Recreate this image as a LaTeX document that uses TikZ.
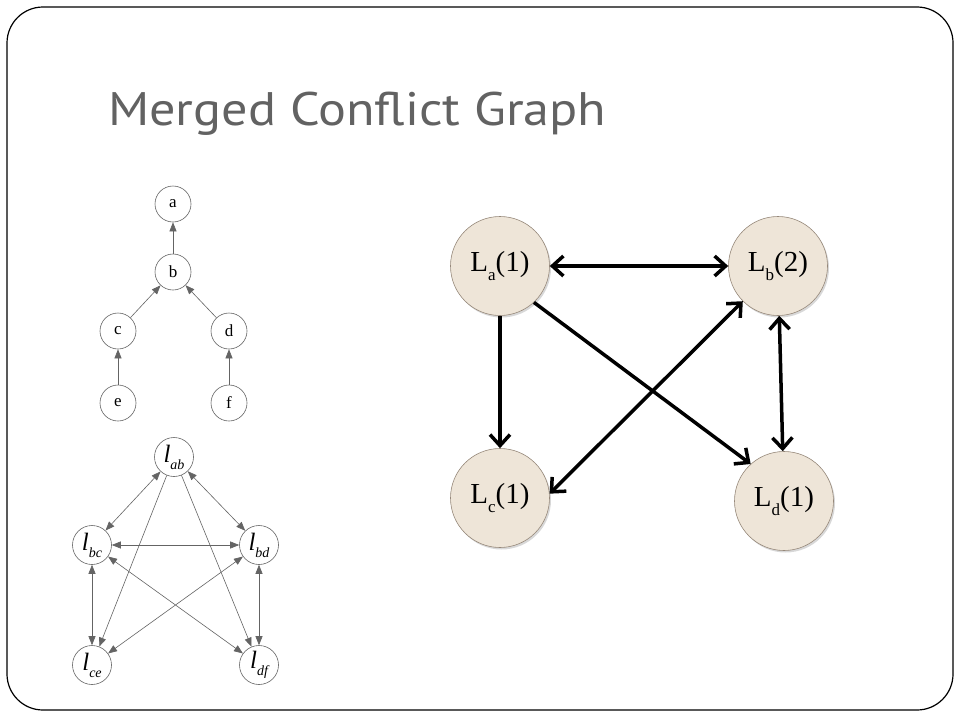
\documentclass[tikz,border=0pt]{standalone}
\usepackage{fontspec}
\setmainfont{Liberation Serif}
\newfontfamily\titlefont{PT Sans}
\usetikzlibrary{arrows.meta}
\usetikzlibrary{shadows}
\definecolor{titlegray}{RGB}{98,98,98}
\definecolor{nodefill}{RGB}{238,229,216}
\definecolor{nodeline}{RGB}{150,136,122}
\definecolor{thingray}{RGB}{100,100,100}
\newcommand{\lsub}[1]{\raisebox{-0.3em}{\fontsize{17}{17}\selectfont #1}}
\newcommand{\isub}[1]{\raisebox{-0.28em}{\fontsize{14}{14}\selectfont\itshape #1}}
\tikzset{
  bigtip/.tip={Straight Barb[length=11pt,width=20pt]},
  smalltip/.tip={Triangle[length=9pt,width=7pt]},
  big/.style={circle, draw=nodeline, line width=0.6pt, fill=nodefill, minimum size=99pt, inner sep=0pt,
    font=\fontsize{29}{30}\selectfont, drop shadow={shadow xshift=1.5pt, shadow yshift=-2pt, opacity=0.3}},
  bigedge/.style={line width=3.5pt, black},
  treenode/.style={circle, draw=thingray, line width=0.6pt, minimum size=36pt, inner sep=0pt, font=\fontsize{17}{17}\selectfont},
  lnode/.style={circle, draw=thingray, line width=0.6pt, minimum size=39pt, inner sep=0pt, font=\fontsize{25}{25}\selectfont\itshape},
  thinedge/.style={draw=thingray, line width=0.6pt}
}
\begin{document}
\begin{tikzpicture}[x=1pt,y=-1pt]
  \useasboundingbox (0,0) rectangle (960,720);
  \fill[white] (0,0) rectangle (960,720);
  \draw[line width=1.2pt, rounded corners=36pt] (7,7) rectangle (953,710);
  \node[anchor=base west, inner sep=0pt, text=titlegray, font=\titlefont\fontsize{47}{50}\selectfont] (title) at (108,125) {\scalebox{1.11}[1]{Merged Conflict Graph}};

  \node[treenode] (a) at (173,204) {a};
  \node[treenode] (b) at (173,272) {b};
  \node[treenode] (c) at (118,331) {c};
  \node[treenode] (d) at (229,331) {d};
  \node[treenode] (e) at (118,403) {e};
  \node[treenode] (f) at (229,403) {f};
  \draw[thinedge, -smalltip] (b) -- (a);
  \draw[thinedge, -smalltip] (c) -- (b);
  \draw[thinedge, -smalltip] (d) -- (b);
  \draw[thinedge, -smalltip] (e) -- (c);
  \draw[thinedge, -smalltip] (f) -- (d);

  \node[lnode] (lab) at (174,457) {l\isub{ab}};
  \node[lnode] (lbc) at (92,545) {l\isub{bc}};
  \node[lnode] (lbd) at (259,545) {l\isub{bd}};
  \node[lnode] (lce) at (92,665) {l\isub{ce}};
  \node[lnode] (ldf) at (259,665) {l\isub{df}};
  \draw[thinedge, smalltip-smalltip] (lab) -- (lbc);
  \draw[thinedge, smalltip-smalltip] (lab) -- (lbd);
  \draw[thinedge, -smalltip] (lab) -- (lce);
  \draw[thinedge, -smalltip] (lab) -- (ldf);
  \draw[thinedge, smalltip-smalltip] (lbc) -- (lbd);
  \draw[thinedge, smalltip-smalltip] (lbc) -- (lce);
  \draw[thinedge, smalltip-smalltip] (lbd) -- (ldf);
  \draw[thinedge, smalltip-smalltip] (lbc) -- (ldf);
  \draw[thinedge, smalltip-smalltip] (lbd) -- (lce);

  \node[big] (La) at (500,266) {L\lsub{a}(1)};
  \node[big] (Lb) at (778,266) {L\lsub{b}(2)};
  \node[big] (Lc) at (500,498) {L\lsub{c}(1)};
  \node[big] (Ld) at (784,501) {L\lsub{d}(1)};
  \draw[bigedge, bigtip-bigtip] (La) -- (Lb);
  \draw[bigedge, -bigtip] (La) -- (Lc);
  \draw[bigedge, -bigtip] (La.-47) -- (Ld.132);
  \draw[bigedge, bigtip-bigtip] (Lc.5) -- (Lb.225);
  \draw[bigedge, bigtip-bigtip] (Lb) -- (Ld);
\end{tikzpicture}
\end{document}
